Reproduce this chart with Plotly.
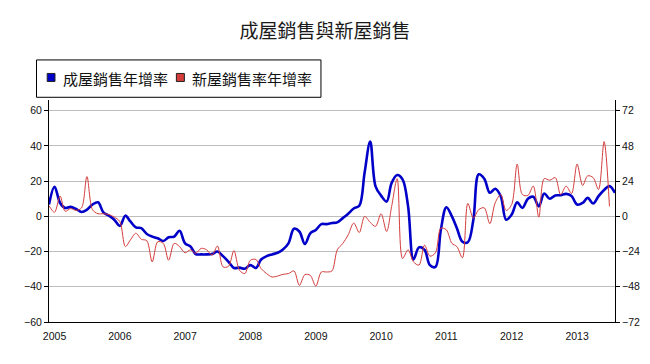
import plotly.graph_objects as go
import pandas as pd

title_text = "成屋銷售與新屋銷售"
name_existing = "成屋銷售年增率"
name_new = "新屋銷售率年增率"

# monthly, Dec 2004 ... Aug 2013 (left axis, %)
existing_sales_yoy = [
    6.7, 16.8, 7.6, 4.8, 5.4, 4.2, 2.5, 3.8, 6.7, 8.0, 2.3, 0.4,
    -1.9, -5.4, 0.4, -2.9, -6.3, -6.7, -10.0, -11.5, -12.4, -14.0, -11.9, -11.5,
    -8.2, -15.3, -17.2, -21.4, -21.6, -21.6, -21.4, -20.0, -22.6, -25.8, -29.3, -29.1,
    -29.7, -27.7, -29.3, -24.5, -22.6, -21.6, -20.7, -18.8, -15.3, -7.0, -8.6, -15.7,
    -9.6, -7.7, -4.4, -4.4, -3.8, -3.4, -1.0, 1.5, 4.5, 6.0, 25.0, 42.5,
    17.0, 11.8, 8.4, 19.0, 23.5, 21.0, 5.7, -24.5, -17.6, -19.0, -27.7, -28.7,
    -7.7, 5.2, 0.0, -6.7, -14.4, -14.7, -1.9, 23.9, 21.4, 13.4, 15.7, 11.5,
    -1.9, 1.0, 8.0, 4.8, 10.0, 11.1, 5.7, 13.0, 10.0, 11.9, 12.0, 12.8,
    11.5, 6.7, 7.6, 10.5, 7.3, 11.5, 15.0, 17.2, 13.4,
]

# monthly, Dec 2004 ... Jul 2013 (right axis, %)
new_sales_yoy = [
    7.3, 2.8, 13.8, 3.5, 5.3, 4.1, 5.8, 27.1, 4.6, 1.8, 1.8, 1.2,
    -0.5, -3.5, -20.6, -16.1, -11.5, -15.6, -16.6, -31.0, -17.3, -18.4, -29.9, -18.4,
    -20.6, -24.8, -22.8, -25.2, -21.8, -22.8, -26.4, -20.2, -34.4, -34.0, -23.4, -36.7,
    -39.0, -29.9, -29.4, -35.6, -39.0, -41.3, -40.7, -39.5, -39.0, -37.2, -47.0, -39.7,
    -40.2, -47.5, -37.9, -37.9, -37.2, -22.8, -18.4, -12.6, -4.6, -11.0, 0.0, -4.1,
    -6.8, 1.8, -10.3, 6.8, 25.7, -28.7, -22.8, -31.0, -33.2, -19.6, -27.1, -24.8,
    -8.0, -9.2, -18.4, -20.6, -28.2, 8.8, -1.2, 4.6, 5.8, -5.0, 9.2, 14.9,
    4.0, 8.0, 35.6, 14.9, 14.3, 20.6, -0.5, 25.7, 24.6, 26.4, 14.9, 20.6,
    15.6, 35.6, 21.1, 27.6, 26.4, 18.4, 51.0, 6.8,
]

year_ticks = list(range(2005, 2014))
left_ticks = [-60, -40, -20, 0, 20, 40, 60]
right_ticks = [-72, -48, -24, 0, 24, 48, 72]

dates_existing = pd.date_range("2004-12-01", periods=len(existing_sales_yoy), freq="MS")
dates_new = pd.date_range("2004-12-01", periods=len(new_sales_yoy), freq="MS")

BLUE = "#0000c8"
RED = "#d43c3c"
CJK = "Noto Sans CJK TC"

# figure geometry (page has an 8px body margin)
W, H = 634, 348
L, R, T, B = 40.5, 27, 92, 34.3
PW, PH = W - L - R, H - T - B


def px(x):
    return (x - L) / PW


def py(y):
    return (H - B - y) / PH


fig = go.Figure()
fig.add_trace(go.Scatter(
    x=dates_new, y=new_sales_yoy, yaxis="y2", mode="lines",
    line=dict(color=RED, width=1, shape="spline", smoothing=0.9),
    name=name_new, showlegend=False,
))
fig.add_trace(go.Scatter(
    x=dates_existing, y=existing_sales_yoy, mode="lines",
    line=dict(color=BLUE, width=2.6, shape="spline", smoothing=1.0),
    name=name_existing, showlegend=False,
))

# legend box drawn as shapes + text
shapes = [
    dict(type="rect", xref="paper", yref="paper",
         x0=px(28), x1=px(312.7), y0=py(52), y1=py(89.3),
         line=dict(color="#000", width=1), fillcolor="white", layer="above"),
    dict(type="rect", xref="paper", yref="paper",
         x0=px(38.7), x1=px(46.5), y0=py(65.5), y1=py(73.5),
         line=dict(color="#222", width=1), fillcolor=BLUE, layer="above"),
    dict(type="rect", xref="paper", yref="paper",
         x0=px(168), x1=px(176), y0=py(65.5), y1=py(73.5),
         line=dict(color="#222", width=1), fillcolor=RED, layer="above"),
]
annotations = [
    dict(text=name_existing, xref="paper", yref="paper", x=px(52.5), y=py(70.5),
         xanchor="left", yanchor="middle", showarrow=False,
         font=dict(family=CJK, size=15, color="#111")),
    dict(text=name_new, xref="paper", yref="paper", x=px(182), y=py(70.5),
         xanchor="left", yanchor="middle", showarrow=False,
         font=dict(family=CJK, size=15, color="#111")),
]

fig.update_layout(
    width=W, height=H,
    margin=dict(l=L, r=R, t=T, b=B, autoexpand=False),
    paper_bgcolor="white", plot_bgcolor="white",
    font=dict(family="Liberation Sans, Arial, sans-serif", size=10, color="#111"),
    title=dict(
        text=title_text, x=0.5, xref="container", xanchor="center",
        y=1 - 23 / H, yref="container", yanchor="middle",
        font=dict(family=CJK, size=19, color="#1a1a1a"),
    ),
    showlegend=False,
    shapes=shapes,
    annotations=annotations,
    xaxis=dict(
        type="date",
        range=["2004-12-01", "2013-08-01"],
        tickvals=[f"{y}-01-01" for y in year_ticks],
        ticktext=[str(y) for y in year_ticks],
        showgrid=False, showline=True, linecolor="#000", linewidth=1,
        ticks="", ticklabelstandoff=4,
        tickfont=dict(size=10.5, color="#111"),
        zeroline=False,
    ),
    yaxis=dict(
        range=[-60, 66.1], tickvals=left_ticks,
        showgrid=True, gridcolor="#bdbdbd", gridwidth=1,
        showline=True, linecolor="#000", linewidth=1,
        ticks="outside", ticklen=4, tickcolor="#000",
        zeroline=False, tickfont=dict(size=10.5, color="#111"),
    ),
    yaxis2=dict(
        range=[-72, 79.32], tickvals=right_ticks, overlaying="y", side="right",
        showgrid=False, showline=True, linecolor="#000", linewidth=1,
        ticks="outside", ticklen=4, tickcolor="#000",
        zeroline=False, tickfont=dict(size=10.5, color="#111"),
    ),
)

fig.write_html("out.html")
